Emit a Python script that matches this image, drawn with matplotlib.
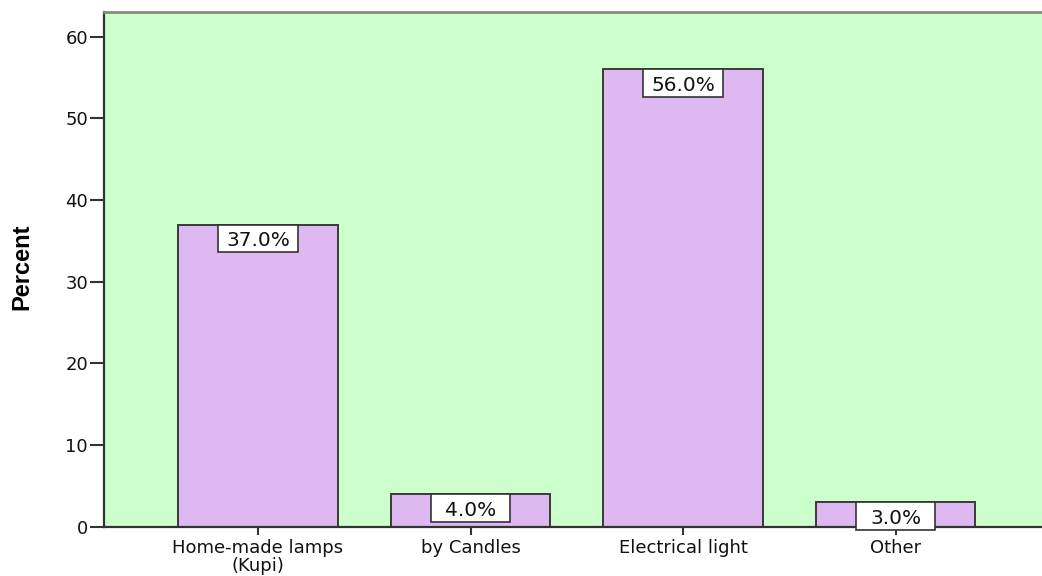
import matplotlib.pyplot as plt
from matplotlib.patches import Rectangle

categories = ["Home-made lamps\n(Kupi)", "by Candles", "Electrical light", "Other"]
percent = [37.0, 4.0, 56.0, 3.0]
yticks = [0, 10, 20, 30, 40, 50, 60]

plt.rcParams['font.family'] = ['DejaVu Sans']

fig = plt.figure(figsize=(10.42, 5.76), dpi=100)
ax = fig.add_axes([0.0998, 0.0851, 0.9075, 0.8941])
ax.set_facecolor('#ccffcc')

x = range(len(categories))
ax.bar(x, percent, width=0.75, color='#deb8f0', edgecolor='#3a3a3a', linewidth=1.4, zorder=2)

# value boxes hang from the top edge of each bar
box_w, box_h = 0.375, 3.4
for xi, v in zip(x, percent):
    ax.add_patch(Rectangle((xi - box_w / 2, v - box_h), box_w, box_h, fc='white',
                           ec='#333333', lw=1.2, zorder=4, clip_on=False))
    ax.text(xi, v - box_h / 2, f"{v:.1f}%", ha='center', va='center_baseline',
            fontsize=14.5, color='#111111', zorder=5)

ax.set_xlim(-0.725, 3.725)
ax.set_ylim(0, 63)
ax.set_yticks(yticks)
ax.set_xticks(list(x))
ax.set_xticklabels(categories, fontsize=13, linespacing=0.95, color='#111111')
ax.tick_params(axis='y', labelsize=13, length=10, width=1.5, color='#333333', pad=1.5,
               labelcolor='#111111')
ax.tick_params(axis='x', length=6, width=1.5, color='#333333', pad=3)

for side in ['left', 'bottom']:
    ax.spines[side].set_color('#333333')
    ax.spines[side].set_linewidth(1.6)
ax.spines['top'].set_color('#888888')
ax.spines['top'].set_linewidth(2)
ax.spines['right'].set_visible(False)

ax.set_ylabel("Percent", fontsize=17, fontweight='bold', family='Liberation Sans')
ax.yaxis.set_label_coords(-0.075, 0.505)

fig.savefig('out.png', dpi=100)
